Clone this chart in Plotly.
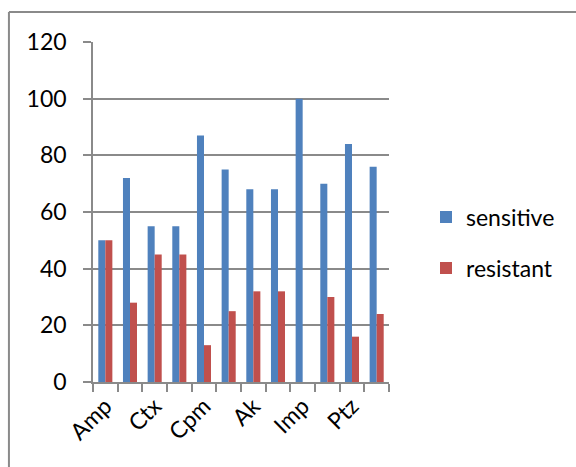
import plotly.graph_objects as go

# Data
categories = list(range(12))
tick_labels = ["Amp", "", "Ctx", "", "Cpm", "", "Ak", "", "Imp", "", "Ptz", ""]
sensitive = [50, 72, 55, 55, 87, 75, 68, 68, 100, 70, 84, 76]
resistant = [50, 28, 45, 45, 13, 25, 32, 32, 0, 30, 16, 24]

BLUE = "#4F81BD"
RED = "#C0504D"
GRID = "#8a8a8a"
FONT = "Lato"

fig = go.Figure()
fig.add_trace(go.Bar(x=categories, y=sensitive, name="sensitive",
                     marker=dict(color=BLUE, line=dict(width=0)), legendgroup="a"))
fig.add_trace(go.Bar(x=categories, y=resistant, name="resistant",
                     marker=dict(color=RED, line=dict(width=0)), legendgroup="b"))

fig.update_layout(
    width=576, height=467,
    margin=dict(l=93, r=187, t=42, b=85),
    paper_bgcolor="white", plot_bgcolor="white",
    barmode="group", bargap=0.43, bargroupgap=0,
    font=dict(family=FONT, size=23, color="black"),
    showlegend=True,
    legend=dict(x=1.125, xanchor="left", y=0.41, yanchor="middle",
                font=dict(size=23), tracegroupgap=18, bgcolor="rgba(0,0,0,0)"),
    xaxis=dict(type="category", tickmode="array", tickvals=categories, ticktext=tick_labels,
               tickangle=-45, tickson="boundaries", ticks="outside", ticklen=8,
               tickcolor=GRID, tickwidth=1.5, showline=True, linecolor=GRID, linewidth=1.5,
               showgrid=False, tickfont=dict(size=23), range=[-0.5, 11.5]),
    yaxis=dict(range=[0, 120], dtick=20, tick0=0, ticks="outside", ticklen=8,
               tickcolor=GRID, tickwidth=1.5, showline=True, linecolor=GRID, linewidth=1.5,
               showgrid=True, gridcolor=GRID, gridwidth=1.5, zeroline=False,
               tickfont=dict(size=23), ticklabelstandoff=12),
    shapes=[
        dict(type="line", xref="paper", yref="paper", x0=-0.284, x1=-0.284, y0=1.088, y1=-0.4,
             line=dict(color=GRID, width=2)),
        dict(type="line", xref="paper", yref="paper", x0=-0.284, x1=1.7, y0=1.088, y1=1.088,
             line=dict(color=GRID, width=2)),
    ],
)

fig.write_html("out.html")
